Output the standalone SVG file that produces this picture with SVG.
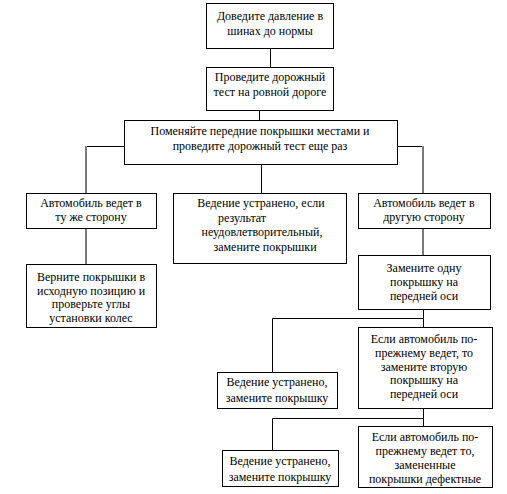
<svg xmlns="http://www.w3.org/2000/svg" width="507" height="494" viewBox="0 0 507 494">
<style>
.box{fill:#fff;stroke:#000;stroke-width:1}
.t{font-family:"Liberation Serif","Times New Roman",serif;font-size:12px;fill:#000;text-anchor:middle}
.ln{stroke:#000;stroke-width:1;fill:none}
.gl{stroke:#7a7a7a;stroke-width:2;fill:none}
</style>
<rect width="507" height="494" fill="#fff"/>
<g id="connectors">
<path class="ln" d="M270.5 48V67"/>
<path class="ln" d="M259.5 110V120"/>
<path class="ln" d="M261.5 165V193"/>
<path class="ln" d="M124 146.5H86"/>
<path class="gl" d="M86 146V193"/>
<path class="ln" d="M397 146.5H423"/>
<path class="gl" d="M423 146V193"/>
<path class="gl" d="M86 228V264"/>
<path class="gl" d="M423 228V255"/>
<path class="ln" d="M423.5 309V327M423.5 318.5H272.5V373"/>
<path class="ln" d="M423.5 408V426M423.5 418.5H272.5V450"/>
</g>
<g id="n1"><rect class="box" x="206.5" y="3.5" width="127" height="45"/>
<text class="t" x="270" y="20">Доведите давление в</text><text class="t" x="270" y="35">шинах до нормы</text></g>
<g id="n2"><rect class="box" x="206.5" y="67.5" width="127" height="43"/>
<text class="t" x="270" y="81">Проведите дорожный</text><text class="t" x="270" y="96">тест на ровной дороге</text></g>
<g id="n3"><rect class="box" x="124.5" y="120.5" width="273" height="44"/>
<text class="t" x="260" y="135">Поменяйте передние покрышки местами и</text><text class="t" x="260" y="150">проведите дорожный тест еще раз</text></g>
<g id="n4"><rect class="box" x="26.5" y="193.5" width="130" height="35"/>
<text class="t" x="91" y="207">Автомобиль ведет в</text><text class="t" x="91" y="221">ту же сторону</text></g>
<g id="n5"><rect class="box" x="173.5" y="193.5" width="173" height="70"/>
<text class="t" x="261" y="207">Ведение устранено, если</text><text class="t" x="218" y="221.5" style="text-anchor:start">результат</text><text class="t" x="262" y="236">неудовлетворительный,</text><text class="t" x="265" y="250.5">замените покрышки</text></g>
<g id="n6"><rect class="box" x="358.5" y="193.5" width="132" height="35"/>
<text class="t" x="424" y="207">Автомобиль ведет в</text><text class="t" x="424" y="221">другую сторону</text></g>
<g id="n7"><rect class="box" x="26.5" y="264.5" width="130" height="63"/>
<text class="t" x="91" y="281">Верните покрышки в</text><text class="t" x="91" y="294.5">исходную позицию и</text><text class="t" x="91" y="308">проверьте углы</text><text class="t" x="91" y="322">установки колес</text></g>
<g id="n8"><rect class="box" x="358.5" y="255.5" width="132" height="54"/>
<text class="t" x="424" y="272">Замените одну</text><text class="t" x="424" y="286">покрышку на</text><text class="t" x="424" y="300">передней оси</text></g>
<g id="n9"><rect class="box" x="217.5" y="372.5" width="120" height="36"/>
<text class="t" x="277" y="386">Ведение устранено,</text><text class="t" x="277" y="402">замените покрышку</text></g>
<g id="n10"><rect class="box" x="358.5" y="327.5" width="134" height="81"/>
<text class="t" x="424" y="343">Если автомобиль по-</text><text class="t" x="424" y="357">прежнему ведет, то</text><text class="t" x="424" y="371">замените вторую</text><text class="t" x="424" y="384">покрышку на</text><text class="t" x="424" y="398">передней оси</text></g>
<g id="n11"><rect class="box" x="222.5" y="450.5" width="116" height="36"/>
<text class="t" x="280" y="465">Ведение устранено,</text><text class="t" x="280" y="481">замените покрышку</text></g>
<g id="n12"><rect class="box" x="358.5" y="426.5" width="134" height="61"/>
<text class="t" x="425" y="441">Если автомобиль по-</text><text class="t" x="425" y="455">прежнему ведет то,</text><text class="t" x="425" y="469">замененные</text><text class="t" x="425" y="483">покрышки дефектные</text></g>
</svg>
